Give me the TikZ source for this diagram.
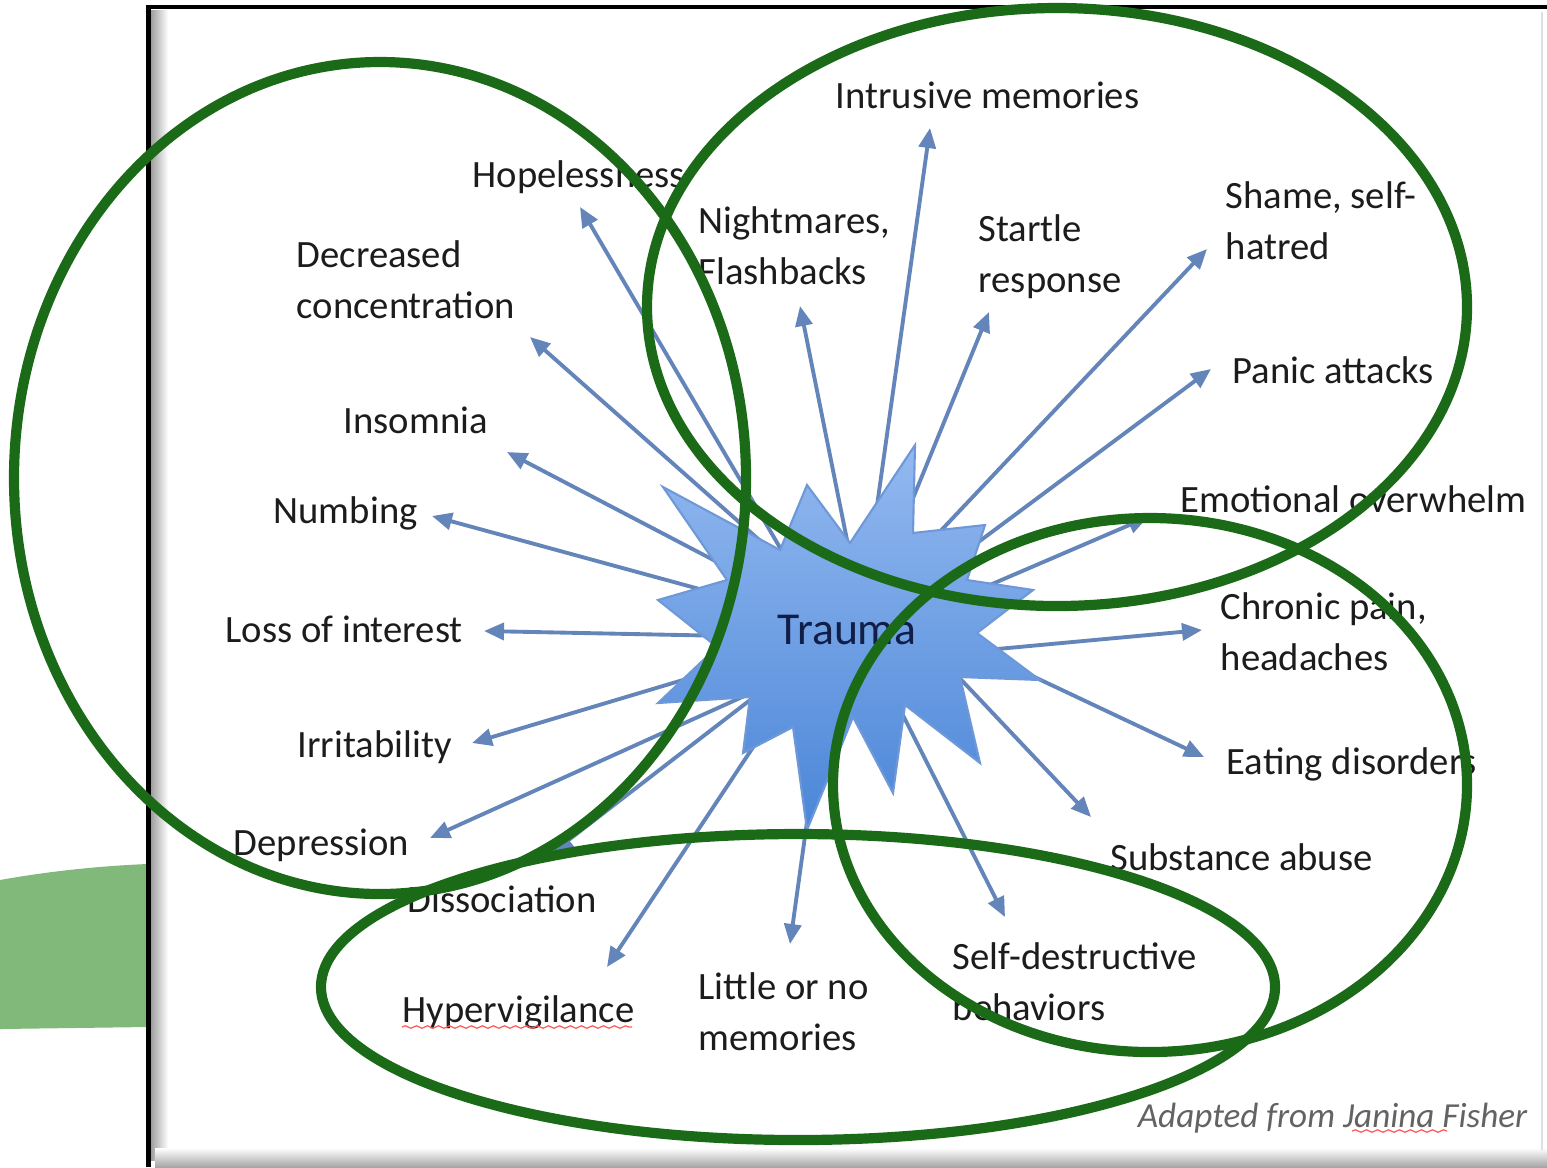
\documentclass[tikz,border=0pt]{standalone}
\usepackage{fontspec}
\setmainfont{Carlito}
\usetikzlibrary{arrows.meta,decorations.pathmorphing}

\definecolor{ringgreen}{HTML}{1B6A18}
\definecolor{bandgreen}{HTML}{80B97A}
\definecolor{spokeblue}{HTML}{6485B9}
\definecolor{starlight}{HTML}{93B9F0}
\definecolor{stardark}{HTML}{4B86D8}
\definecolor{staredge}{HTML}{6F98D8}
\definecolor{traumanavy}{HTML}{101E48}
\definecolor{labelgray}{HTML}{1C1C1C}
\definecolor{creditgray}{HTML}{636363}

\tikzset{
  symptom/.style={font=\fontsize{11}{14.5}\selectfont, text=labelgray, inner sep=0pt, align=left, anchor=base west},
  spoke/.style={draw=spokeblue, line width=1.1pt, -{Triangle[length=2mm,width=1.7mm]}},
  ring/.style={draw=ringgreen, line width=2.9pt},
  squiggle/.style={draw=red!65, line width=0.35pt, decorate, decoration={snake, amplitude=0.35pt, segment length=1.1mm}},
}

\begin{document}
\begin{tikzpicture}[x=0.1mm,y=-0.1mm]
  \useasboundingbox (0,0) rectangle (1547,1167);
  \fill[white] (0,0) rectangle (1547,1167);

  % green band on the left
  \fill[bandgreen] (0,880) .. controls (50,871) and (100,866) .. (147,864) -- (147,1027) -- (0,1029) -- cycle;

  % frame of the slide picture
  \shade[left color=gray!75, right color=white] (151,10) rectangle (168,1160);
  \shade[top color=white, bottom color=gray!70] (155,1148) rectangle (1547,1167);
  \draw[gray!25, line width=0.8pt] (1542,12) -- (1542,1150);
  \draw[black, line width=1.4pt] (148.5,1167) -- (148.5,7) -- (1547,7);

  % spokes
  \coordinate (hop-s) at (799,580);  \coordinate (hop-t) at (580,207);
  \coordinate (dec-s) at (800,576);  \coordinate (dec-t) at (530,337);
  \coordinate (ins-s) at (790,600);  \coordinate (ins-t) at (507,452);
  \coordinate (num-s) at (780,611);  \coordinate (num-t) at (432,516);
  \coordinate (los-s) at (780,637);  \coordinate (los-t) at (484,631);
  \coordinate (irr-s) at (780,651);  \coordinate (irr-t) at (472,743);
  \coordinate (dep-s) at (782,679);  \coordinate (dep-t) at (430,838);
  \coordinate (dis-s) at (789,670);  \coordinate (dis-t) at (553,852);
  \coordinate (hyp-s) at (797,681);  \coordinate (hyp-t) at (607,967);
  \coordinate (lit-s) at (820,728);  \coordinate (lit-t) at (790,944);
  \coordinate (sel-s) at (870,650);  \coordinate (sel-t) at (1005,917);
  \coordinate (sub-s) at (900,615);  \coordinate (sub-t) at (1091,817);
  \coordinate (eat-s) at (920,623);  \coordinate (eat-t) at (1204,757);
  \coordinate (chr-s) at (900,658);  \coordinate (chr-t) at (1202,630);
  \coordinate (emo-s) at (920,615);  \coordinate (emo-t) at (1148,517);
  \coordinate (pan-s) at (930,578);  \coordinate (pan-t) at (1211,369);
  \coordinate (sha-s) at (915,558);  \coordinate (sha-t) at (1207,249);
  \coordinate (sta-s) at (900,530);  \coordinate (sta-t) at (989,312);
  \coordinate (int-s) at (875,520);  \coordinate (int-t) at (930,128);
  \coordinate (nig-s) at (850,555);  \coordinate (nig-t) at (800,306);

  \foreach \k in {hop,dec,ins,num,los,irr,dep,dis,hyp,lit,sel,sub,eat,chr,emo,pan,sha,sta,int,nig}
    \draw[spoke] (\k-s) -- (\k-t);

  % the star
  \shade[top color=starlight, bottom color=stardark, draw=staredge, line width=0.6pt, line join=miter]
    (915,445) -- (913,533) -- (985,525) -- (967,580) -- (1033,590) -- (977,633)
    -- (1040,680) -- (960,677) -- (980,763) -- (905,705) -- (893,793) -- (853,717)
    -- (807,830) -- (793,727) -- (743,753) -- (750,697) -- (658,703) -- (717,647)
    -- (658,600) -- (727,580) -- (663,487) -- (780,550) -- (807,485) -- (850,543) -- cycle;
  \node[font=\fontsize{13}{15}\selectfont, text=traumanavy, inner sep=0pt] (trauma) at (847,630) {Trauma};

  % labels (two-line ones sit on the baseline of their last line)
  \node[symptom] (hopeless) at (472,187) {Hopelessness};
  \node[symptom] (decreased) at (296,318) {Decreased\\concentration};
  \node[symptom] (insomnia) at (343,433) {Insomnia};
  \node[symptom] (numbing) at (273,523) {Numbing};
  \node[symptom] (loss) at (225,642) {Loss of interest};
  \node[symptom] (irritable) at (297,757) {Irritability};
  \node[symptom] (depression) at (233,855) {Depression};
  \node[symptom] (dissoc) at (407,912) {Dissociation};
  \node[symptom] (hypervig) at (402,1022) {Hypervigilance};
  \node[symptom] (little) at (698,1050) {Little or no\\memories};
  \node[symptom] (selfdestr) at (952,1020) {Self-destructive\\behaviors};
  \node[symptom] (substance) at (1110,870) {Substance abuse};
  \node[symptom] (eating) at (1226,774) {Eating disorders};
  \node[symptom] (chronic) at (1220,670) {Chronic pain,\\headaches};
  \node[symptom] (emotional) at (1180,512) {Emotional overwhelm};
  \node[symptom] (panic) at (1232,383) {Panic attacks};
  \node[symptom] (shame) at (1225,259) {Shame, self-\\hatred};
  \node[symptom] (startle) at (978,292) {Startle\\response};
  \node[symptom] (intrusive) at (835,108) {Intrusive memories};
  \node[symptom] (nightmares) at (698,284) {Nightmares,\\Flashbacks};

  \node[font=\fontsize{10}{12}\selectfont\itshape, text=creditgray, inner sep=0pt, anchor=base east] (credit) at (1528,1127) {Adapted from Janina Fisher};

  % spell-check squiggles
  \draw[squiggle] (hypervig.base west) ++(0,5) -- ++(230,0);
  \draw[squiggle] (1352,1131) -- (1447,1131);

  % green rings on top
  \draw[ring] (380,478) ellipse [x radius=366, y radius=416];
  \draw[ring] (1057,307) ellipse [x radius=410, y radius=299];
  \draw[ring] (1150,785) ellipse [x radius=317, y radius=267];
  \draw[ring] (798,987) ellipse [x radius=477, y radius=153];
\end{tikzpicture}
\end{document}
